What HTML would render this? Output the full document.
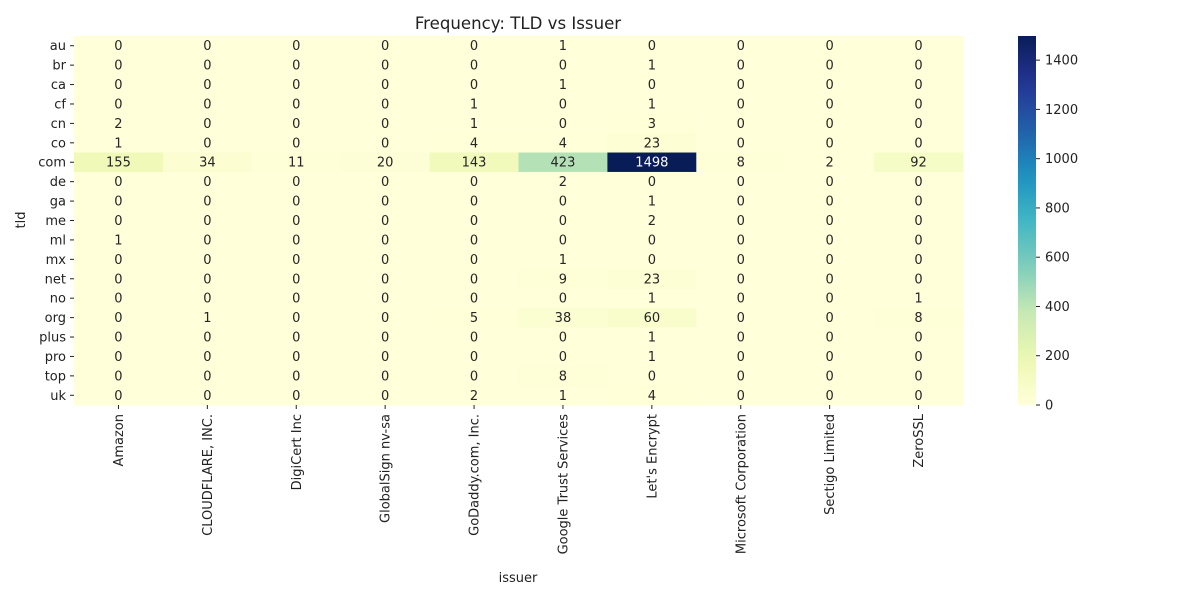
<!DOCTYPE html>
<html><head><meta charset="utf-8"><style>
body{margin:0;background:#fff;font-family:"Liberation Sans","DejaVu Sans",sans-serif}
svg text{font-family:"DejaVu Sans","Liberation Sans",sans-serif;fill:#222}
</style></head><body>
<svg id="c" width="1200" height="600"></svg>
<script>
const rows=["au","br","ca","cf","cn","co","com","de","ga","me","ml","mx","net","no","org","plus","pro","top","uk"];
const cols=["Amazon","CLOUDFLARE, INC.","DigiCert Inc","GlobalSign nv-sa","GoDaddy.com, Inc.","Google Trust Services","Let's Encrypt","Microsoft Corporation","Sectigo Limited","ZeroSSL"];
const values=[
[0,0,0,0,0,1,0,0,0,0],
[0,0,0,0,0,0,1,0,0,0],
[0,0,0,0,0,1,0,0,0,0],
[0,0,0,0,1,0,1,0,0,0],
[2,0,0,0,1,0,3,0,0,0],
[1,0,0,0,4,4,23,0,0,0],
[155,34,11,20,143,423,1498,8,2,92],
[0,0,0,0,0,2,0,0,0,0],
[0,0,0,0,0,0,1,0,0,0],
[0,0,0,0,0,0,2,0,0,0],
[1,0,0,0,0,0,0,0,0,0],
[0,0,0,0,0,1,0,0,0,0],
[0,0,0,0,0,9,23,0,0,0],
[0,0,0,0,0,0,1,0,0,1],
[0,1,0,0,5,38,60,0,0,8],
[0,0,0,0,0,0,1,0,0,0],
[0,0,0,0,0,0,1,0,0,0],
[0,0,0,0,0,8,0,0,0,0],
[0,0,0,0,2,1,4,0,0,0]];
const cbTicks=[0,200,400,600,800,1000,1200,1400];
const svg=document.getElementById('c');const NS="http://www.w3.org/2000/svg";
function el(t,a,p){const e=document.createElementNS(NS,t);for(const k in a)e.setAttribute(k,a[k]);(p||svg).appendChild(e);return e;}
const L=74,R=963,T=36,B=405;
let vmax=0;values.forEach(r=>r.forEach(v=>{if(v>vmax)vmax=v;}));
const cw=(R-L)/cols.length,ch=(B-T)/rows.length;
const xs=i=>L+i*cw, ys=j=>T+j*ch;
const stops=["#ffffd9","#edf8b1","#c7e9b4","#7fcdbb","#41b6c4","#1d91c0","#225ea8","#253494","#081d58"];
function hex(h){return [1,3,5].map(i=>parseInt(h.substr(i,2),16));}
function cmap(t){t=Math.max(0,Math.min(1,t));const p=t*(stops.length-1);const i=Math.min(Math.floor(p),stops.length-2);const f=p-i;const a=hex(stops[i]),b=hex(stops[i+1]);const c=a.map((v,k)=>v+(b[k]-v)*f);return c;}
values.forEach((r,j)=>r.forEach((v,i)=>{
 const c=cmap(v/vmax);
 const rect=el('rect',{x:xs(i),y:ys(j),width:cw+0.5,height:ch+0.5,fill:`rgb(${c.map(Math.round).join(',')})`});
 
 
 const lum=(0.2126*c[0]+0.7152*c[1]+0.0722*c[2])/255;
 const t=el('text',{x:xs(i)+cw/2,y:ys(j)+ch/2+4.5,'text-anchor':'middle','font-size':13});
 t.style.fill=lum<0.408?'#fff':'#262626';
 t.textContent=v;
 
 
}));
rows.forEach((r,j)=>{
 const y=ys(j)+ch/2;
 el('line',{x1:L-4,x2:L,y1:y,y2:y,stroke:'#222'});
 const t=el('text',{x:L-8,y:y+4.5,'text-anchor':'end','font-size':13});t.textContent=r;
 
 
});
cols.forEach((c,i)=>{
 const x=xs(i)+cw/2;
 el('line',{x1:x,x2:x,y1:B,y2:B+4,stroke:'#222'});
 const t=el('text',{x:0,y:0,'text-anchor':'end','font-size':13,transform:`translate(${x+4.5},${B+9}) rotate(-90)`});t.textContent=c;
 
 
});
const ti=el('text',{x:518,y:29,'text-anchor':'middle','font-size':16.6});ti.textContent="Frequency: TLD vs Issuer";

const xl=el('text',{x:518,y:582,'text-anchor':'middle','font-size':13});xl.textContent="issuer";

const yl=el('text',{x:0,y:0,'text-anchor':'middle','font-size':13,transform:`translate(25,220) rotate(-90)`});yl.textContent="tld";

const defs=el('defs',{});const g=el('linearGradient',{id:'cb',x1:0,y1:1,x2:0,y2:0},defs);
for(let k=0;k<=20;k++){const c=cmap(k/20);el('stop',{offset:k/20,'stop-color':`rgb(${c.map(Math.round).join(',')})`},g);}
const CL=1018,CR=1036;
const cb=el('rect',{x:CL,y:T,width:CR-CL,height:B-T,fill:'url(#cb)'});

const cy=v=>B-v/vmax*(B-T);
cbTicks.forEach(v=>{
 const y=cy(v);el('line',{x1:CR,x2:CR+4,y1:y,y2:y,stroke:'#222'});
 const t=el('text',{x:CR+9,y:y+4.5,'font-size':13});t.textContent=v;
 
});
</script>
</body></html>
